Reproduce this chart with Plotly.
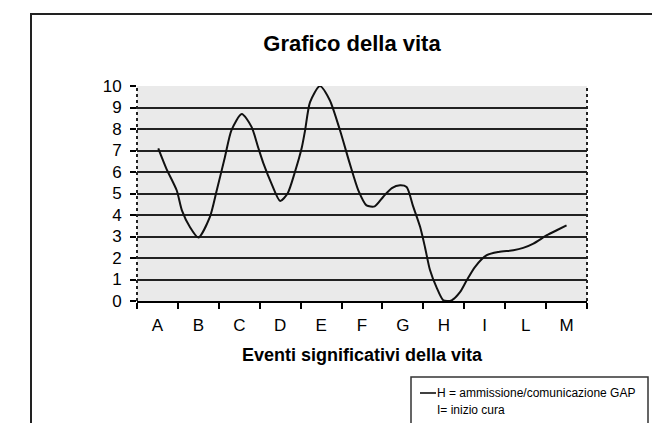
import plotly.graph_objects as go

# categories on the x axis (Excel style chart)
categories = ["A", "B", "C", "D", "E", "F", "G", "H", "I", "L", "M"]
y_ticks = list(range(0, 11))

# hand drawn curve: position in category units (A=0) and value
curve_pos = [0.02, 0.22, 0.47, 0.60, 0.79, 1.00, 1.28, 1.45, 1.65, 1.81, 2.06,
             2.30, 2.46, 2.59, 2.79, 3.00, 3.18, 3.36, 3.53, 3.61, 3.73, 3.97,
             4.21, 4.46, 4.70, 4.91, 5.11, 5.31, 5.52, 5.73, 5.93, 6.09, 6.25,
             6.42, 6.54, 6.66, 6.83, 6.99, 7.19, 7.40, 7.56, 7.76, 8.05, 8.34,
             8.70, 8.94, 9.19, 9.52, 9.76, 10.00]
curve_val = [7.1, 6.15, 5.15, 4.2, 3.45, 2.95, 3.9, 5.15, 6.7, 7.95, 8.7,
             8.1, 7.15, 6.4, 5.45, 4.65, 5.0, 6.0, 7.15, 7.95, 9.25, 10.0,
             9.35, 7.95, 6.4, 5.15, 4.45, 4.4, 4.85, 5.25, 5.38, 5.3, 4.4,
             3.45, 2.5, 1.45, 0.6, 0.03, 0.03, 0.42, 0.96, 1.58, 2.13, 2.28,
             2.36, 2.47, 2.67, 3.06, 3.29, 3.52]

legend_lines = ["H = ammissione/comunicazione GAP", "I= inizio cura"]

W, H = 652, 423
L, R, T, B = 137, 65, 86, 122
pw, ph = W - L - R, H - T - B

def px(x):  # pixel -> paper x
    return (x - L) / pw

def py(y):  # pixel -> paper y
    return (H - B - y) / ph

fig = go.Figure()
fig.add_trace(go.Scatter(x=curve_pos, y=curve_val, mode="lines",
                         line=dict(color="#111111", width=2, shape="spline", smoothing=0.7),
                         showlegend=False, hoverinfo="skip"))

font = "Liberation Sans, Arial, sans-serif"
bounds = [i - 0.5 for i in range(len(categories) + 1)]

fig.update_layout(
    width=W, height=H,
    margin=dict(l=L, r=R, t=T, b=B),
    paper_bgcolor="white",
    plot_bgcolor="#eaeaea",
    font=dict(family=font, color="black", size=16),
    title=dict(text="<b>Grafico della vita</b>", x=352 / W, xanchor="center",
               y=1 - 43 / H, yanchor="middle", font=dict(size=22)),
    xaxis=dict(range=[-0.5, 10.5], tickvals=list(range(len(categories))),
               ticktext=categories, ticks="", showgrid=False, zeroline=False,
               showline=True, linecolor="black", linewidth=2,
               minor=dict(tickvals=bounds, ticks="outside", ticklen=6,
                          tickcolor="black", tickwidth=2, showgrid=False),
               tickfont=dict(size=17), ticklabelstandoff=8,
               title=dict(text="<b>Eventi significativi della vita</b>",
                          font=dict(size=18), standoff=14)),
    yaxis=dict(range=[0, 10], tickvals=y_ticks, ticks="outside", ticklen=6,
               tickwidth=2, tickcolor="black", showgrid=True, gridcolor="#222222",
               gridwidth=2, zeroline=False, showline=False, tickfont=dict(size=17),
               ticklabelstandoff=5),
)

shapes = []
# dotted left / right plot borders
for xp in (0, 1):
    shapes.append(dict(type="line", xref="paper", yref="paper", x0=xp, x1=xp, y0=0, y1=1,
                       line=dict(color="#222222", width=2, dash="dot")))
# outer frame, running off the right and bottom edge
shapes.append(dict(type="rect", xref="paper", yref="paper", x0=px(31), y0=py(H + 20),
                   x1=px(W + 20), y1=py(14), line=dict(color="#222222", width=2)))
# legend box, cut at the bottom
shapes.append(dict(type="rect", xref="paper", yref="paper", x0=px(411), y0=py(H + 20),
                   x1=px(648), y1=py(377), line=dict(color="#333333", width=1.5),
                   fillcolor="white"))
shapes.append(dict(type="line", xref="paper", yref="paper", x0=px(420), x1=px(436),
                   y0=py(393), y1=py(393), line=dict(color="black", width=1.5)))
fig.update_layout(shapes=shapes)

for i, txt in enumerate(legend_lines):
    fig.add_annotation(text=txt, xref="paper", yref="paper", x=px(435), y=py(393 + 17 * i),
                       xanchor="left", yanchor="middle", showarrow=False,
                       font=dict(family=font, size=12))

# page body has an 8px default margin, drop it so the figure sits at 0,0
fig.write_html("out.html", config={"displayModeBar": False},
               post_script="document.body.style.margin='0';")
